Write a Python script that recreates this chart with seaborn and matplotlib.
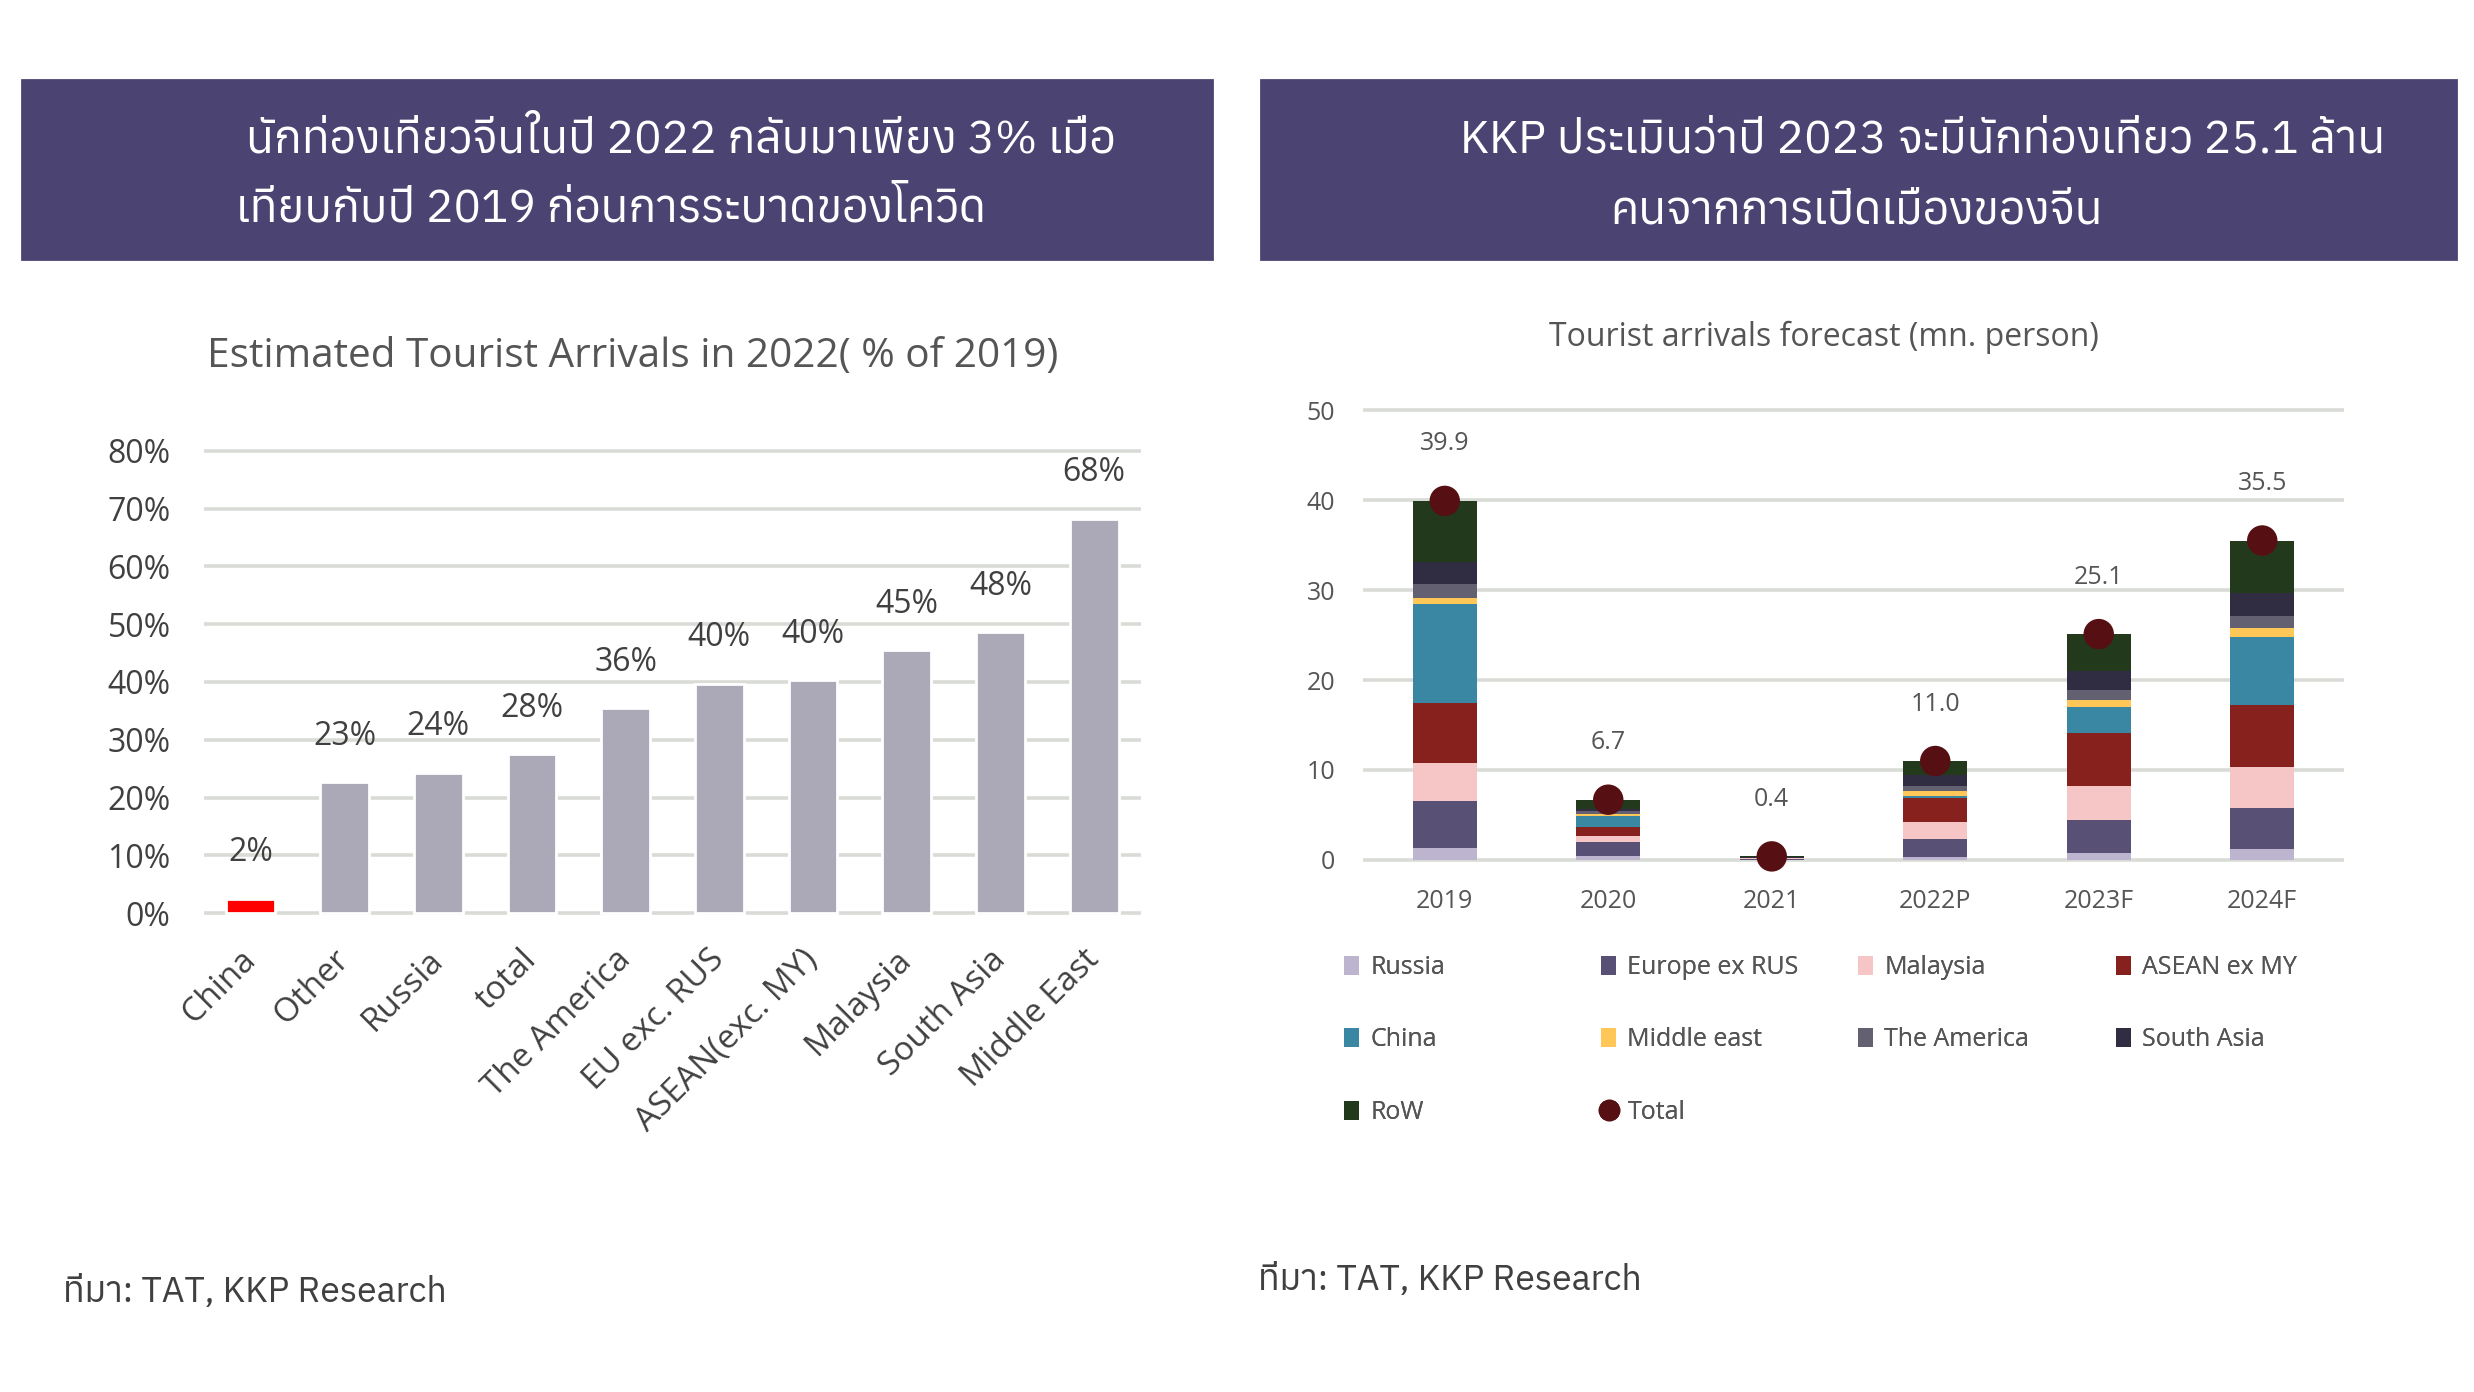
import numpy as np
import matplotlib
matplotlib.use("Agg")
import matplotlib.pyplot as plt
from matplotlib.patches import Patch, Rectangle
from matplotlib.lines import Line2D
from matplotlib import font_manager
from matplotlib.ft2font import FT2Font
import seaborn as sns

# --- Data: left chart (share of 2019 arrivals) ---
regions = ["China", "Other", "Russia", "total", "The America", "EU exc. RUS",
           "ASEAN(exc. MY)", "Malaysia", "South Asia", "Middle East"]
share_2022 = [0.025, 0.227, 0.243, 0.275, 0.355, 0.397, 0.403, 0.455, 0.486, 0.683]
share_labels = ["2%", "23%", "24%", "28%", "36%", "40%", "40%", "45%", "48%", "68%"]

# --- Data: right chart (mn. person) ---
years = ["2019", "2020", "2021", "2022P", "2023F", "2024F"]
russia = [1.3, 0.45, 0.05, 0.3, 0.75, 1.2]
europe_ex_rus = [5.3, 1.5, 0.1, 2.0, 3.7, 4.55]
malaysia = [4.2, 0.75, 0.02, 1.9, 3.8, 4.55]
asean_ex_my = [6.6, 1.0, 0.03, 2.7, 5.9, 6.9]
china = [11.0, 1.2, 0.02, 0.2, 2.9, 7.6]
middle_east = [0.7, 0.2, 0.02, 0.6, 0.75, 0.95]
the_america = [1.6, 0.3, 0.02, 0.5, 1.1, 1.35]
south_asia = [2.4, 0.25, 0.04, 1.2, 2.1, 2.6]
rest_of_world = [6.8, 1.05, 0.1, 1.6, 4.1, 5.8]
totals = [39.9, 6.7, 0.4, 11.0, 25.1, 35.5]

series = [
    ("Russia", russia, "#bdb4d0"),
    ("Europe ex RUS", europe_ex_rus, "#595076"),
    ("Malaysia", malaysia, "#f6c5c5"),
    ("ASEAN ex MY", asean_ex_my, "#87211d"),
    ("China", china, "#3a87a4"),
    ("Middle east", middle_east, "#fec758"),
    ("The America", the_america, "#636072"),
    ("South Asia", south_asia, "#302d42"),
    ("RoW", rest_of_world, "#223a1b"),
]

header_left = ["นักท่องเที่ยวจีนในปี 2022 กลับมาเพียง 3% เมื่อ",
               "เทียบกับปี 2019 ก่อนการระบาดของโควิด"]
header_right = ["KKP ประเมินว่าปี 2023 จะมีนักท่องเที่ยว 25.1 ล้าน",
                "คนจากการเปิดเมืองของจีน"]
source_text = "ที่มา: TAT, KKP Research"


def find_thai_font():
    names = []
    for f in font_manager.fontManager.ttflist:
        try:
            cmap = FT2Font(f.fname).get_charmap()
        except Exception:
            continue
        if 0x0E01 in cmap and 0x0E35 in cmap:
            names.append((f.weight != 400, f.name))
    if not names:
        return None
    names.sort()
    return names[0][1]


sns.set_theme(style="white")
thai = find_thai_font()
THAI = [thai, "DejaVu Sans"] if thai else ["DejaVu Sans"]
plt.rcParams["font.family"] = ["Open Sans", "DejaVu Sans"]

W, H, DPI = 2474, 1392, 200
fig = plt.figure(figsize=(W / DPI, H / DPI), dpi=DPI)
fig.patch.set_facecolor("white")


def rect(x0, x1, ytop, ybot):
    return [x0 / W, 1 - ybot / H, (x1 - x0) / W, (ybot - ytop) / H]


def fx(x):
    return x / W


def fy(y):
    return 1 - y / H


# --- Header boxes ---
HEAD = "#4b4372"
for x0, x1 in [(22, 1212), (1261, 2456)]:
    fig.add_artist(Rectangle((fx(x0), fy(259)), (x1 - x0) / W, 179 / H,
                             transform=fig.transFigure, color=HEAD, zorder=0))

fig.text(fx(246), fy(140), header_left[0], color="white", fontsize=16.5,
         family=THAI, ha="left", va="center")
fig.text(fx(236), fy(209), header_left[1], color="white", fontsize=16.5,
         family=THAI, ha="left", va="center")
fig.text(fx(1460), fy(140), header_right[0], color="white", fontsize=16.5,
         family=THAI, ha="left", va="center")
fig.text(fx(1857), fy(211), header_right[1], color="white", fontsize=16.5,
         family=THAI, ha="center", va="center")

# --- Left chart ---
ppu = 462 / 0.8
lo, hi = -0.01, 0.82
ax1 = fig.add_axes(rect(204, 1141, 913 - hi * ppu, 913 - lo * ppu))
bar_colors = ["#ff0000"] + ["#aba9b7"] * (len(regions) - 1)
sns.barplot(x=regions, y=share_2022, hue=regions, palette=bar_colors, legend=False,
            width=0.52, saturation=1, errorbar=None, ax=ax1)
ax1.set_ylim(lo, hi)
ax1.set_xlim(-0.5, len(regions) - 0.5)
ax1.set_yticks(np.arange(0, 0.81, 0.1))
ax1.set_yticklabels([f"{t:.0%}" for t in np.arange(0, 0.81, 0.1)])
ax1.yaxis.grid(True, color="#d8dbd6", linewidth=1.3)
ax1.set_axisbelow(True)
for s in ax1.spines.values():
    s.set_visible(False)
ax1.tick_params(axis="y", length=0, pad=12, labelsize=11.5, labelcolor="#404040")
ax1.tick_params(axis="x", length=0, pad=13, labelsize=12, labelcolor="#404040")
for lab in ax1.get_xticklabels():
    lab.set_rotation(45)
    lab.set_ha("right")
    lab.set_va("center")
    lab.set_rotation_mode("anchor")
ax1.set_xlabel("")
ax1.set_ylabel("")
for i, (v, l) in enumerate(zip(share_2022, share_labels)):
    ax1.annotate(l, (i, v), xytext=(0, 16.5), textcoords="offset points",
                 ha="center", va="center", fontsize=11.5, color="#404040")

fig.text(fx(633), fy(357), "Estimated Tourist Arrivals in 2022( % of 2019)",
         ha="center", va="center", fontsize=14.6, color="#555555")

# --- Right chart ---
ppu2 = 9.0
lo2, hi2 = -0.5, 51
ax2 = fig.add_axes(rect(1363, 2344, 860 - hi2 * ppu2, 860 - lo2 * ppu2))
bottom = np.zeros(len(years))
for name, vals, col in series:
    sns.barplot(x=years, y=vals, bottom=bottom, color=col, width=0.39,
                saturation=1, errorbar=None, ax=ax2, linewidth=0)
    bottom = bottom + np.array(vals)
sns.scatterplot(x=years, y=totals, color="#560f13", s=120, edgecolor="none",
                zorder=5, clip_on=False, ax=ax2)
for i, t in enumerate(totals):
    ax2.annotate(f"{t:.1f}", (i, t), xytext=(0, 20.5), textcoords="offset points",
                 ha="center", va="center", fontsize=9, color="#555555")
ax2.set_ylim(lo2, hi2)
ax2.set_xlim(-0.5, len(years) - 0.5)
ax2.set_yticks(range(0, 51, 10))
ax2.yaxis.grid(True, color="#d8dbd6", linewidth=1.3)
ax2.set_axisbelow(True)
for s in ax2.spines.values():
    s.set_visible(False)
ax2.tick_params(axis="both", length=0, labelsize=9, labelcolor="#555555")
ax2.tick_params(axis="y", pad=10)
ax2.tick_params(axis="x", pad=9)
ax2.set_xlabel("")
ax2.set_ylabel("")

fig.text(fx(1824), fy(337), "Tourist arrivals forecast (mn. person)",
         ha="center", va="center", fontsize=11.5, color="#555555")

# --- Legend: four columns, row-major order as in the original ---
handles = [Patch(facecolor=c, edgecolor="none", label=n) for n, _, c in series]
handles.append(Line2D([], [], marker="o", linestyle="", markersize=6.8,
                      color="#560f13", label="Total"))
col_x = [1344, 1601, 1858, 2116]
for c in range(4):
    hs = handles[c::4]
    leg = fig.legend(handles=hs, loc="upper left",
                     bbox_to_anchor=(fx(col_x[c]), fy(955)),
                     frameon=False, fontsize=9, labelcolor="#555555",
                     handlelength=0.6, handleheight=0.8, handletextpad=0.45,
                     labelspacing=1.9, borderpad=0, borderaxespad=0)
    fig.add_artist(leg)

# --- Sources ---
fig.text(fx(63), fy(1292), source_text, family=THAI, fontsize=12.8,
         color="#404040", ha="left", va="center")
fig.text(fx(1258), fy(1280), source_text, family=THAI, fontsize=12.8,
         color="#404040", ha="left", va="center")

fig.savefig("out.png", dpi=DPI)
